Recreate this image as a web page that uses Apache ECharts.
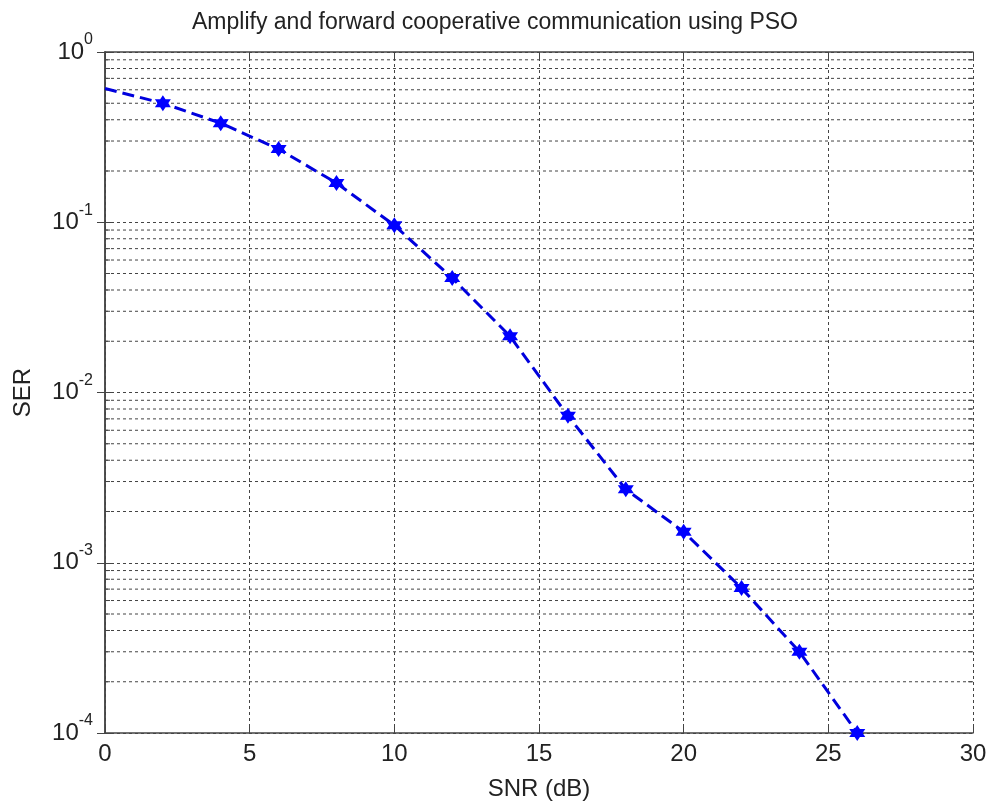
<!DOCTYPE html>
<html>
<head>
<meta charset="utf-8">
<script src="https://cdn.jsdelivr.net/npm/echarts@6/dist/echarts.min.js"></script>
<style>html,body{margin:0;padding:0;background:#fff;}#c{width:990px;height:806px;}</style>
</head>
<body>
<div id="c"></div>
<script>
// Data
var snr = [0, 2, 4, 6, 8, 10, 12, 14, 16, 18, 20, 22, 24, 26];
var ser = [0.61, 0.50, 0.382, 0.269, 0.170, 0.096, 0.047, 0.0214, 0.0073, 0.0027, 0.00152, 0.00071, 0.00030, 0.0001];
var xTicks = [0, 5, 10, 15, 20, 25, 30];
var yDecades = [1e-4, 1e-3, 1e-2, 1e-1, 1];
var minorMultipliers = [2, 3, 4, 5, 6, 7, 8, 9];

var minorVals = [];
for (var d = 0; d < yDecades.length - 1; d++) {
  for (var m = 0; m < minorMultipliers.length; m++) {
    minorVals.push(yDecades[d] * minorMultipliers[m]);
  }
}

var font = '"Liberation Sans", Arial, sans-serif';
var textColor = '#222';
var axisColor = '#444';
var gridLine = { show: true, lineStyle: { color: '#444', width: 1, type: [3, 3] } };

var hexagram = 'path://M0,-10 L2.9,-5 L8.66,-5 L5.8,0 L8.66,5 L2.9,5 L0,10 L-2.9,5 L-8.66,5 L-5.8,0 L-8.66,-5 L-2.9,-5 Z';

var lineData = snr.map(function (x, i) {
  var item = { value: [x, ser[i]] };
  if (i === 0) item.symbol = 'none';
  return item;
});

var chart = echarts.init(document.getElementById('c'));
chart.setOption({
  backgroundColor: '#fff',
  animation: false,
  title: {
    text: 'Amplify and forward cooperative communication using PSO',
    left: 'center',
    top: 6,
    textStyle: { fontFamily: font, fontSize: 23, fontWeight: 'normal', color: textColor }
  },
  grid: { left: 105, right: 17, top: 52, bottom: 71 },
  xAxis: [{
    type: 'value', min: 0, max: 30, interval: 5,
    name: 'SNR (dB)', nameLocation: 'middle', nameGap: 44,
    nameTextStyle: { fontFamily: font, fontSize: 24, color: textColor },
    axisLine: { show: true, lineStyle: { color: axisColor, width: 1.5 } },
    axisTick: { show: true, inside: true, length: 8, lineStyle: { color: axisColor } },
    axisLabel: { fontFamily: font, fontSize: 24, color: textColor, margin: 9,
      formatter: function (v) { return xTicks.indexOf(v) >= 0 ? String(v) : ''; } },
    splitLine: gridLine
  }, {
    type: 'value', min: 0, max: 30, interval: 5, position: 'top',
    axisLine: { show: true, lineStyle: { color: axisColor, width: 1.5 } },
    axisTick: { show: true, inside: true, length: 8, lineStyle: { color: axisColor } },
    axisLabel: { show: false }, splitLine: { show: false }
  }],
  yAxis: [{
    type: 'log', logBase: 10, min: 1e-4, max: 1, splitNumber: 4,
    name: 'SER', nameLocation: 'middle', nameGap: 70,
    nameTextStyle: { fontFamily: font, fontSize: 24, color: textColor },
    axisLine: { show: true, lineStyle: { color: axisColor, width: 1.5 } },
    axisTick: { show: true, inside: true, length: 8, lineStyle: { color: axisColor } },
    axisLabel: {
      margin: 12,
      formatter: function (v) {
        var e = Math.round(Math.log10(v));
        return '{b|10}{s|' + e + '}';
      },
      rich: {
        b: { fontFamily: font, fontSize: 24, color: textColor, lineHeight: 40, verticalAlign: 'middle' },
        s: { fontFamily: font, fontSize: 16, color: textColor, lineHeight: 16, verticalAlign: 'top' }
      }
    },
    splitLine: gridLine
  }, {
    type: 'log', logBase: 10, min: 1e-4, max: 1, splitNumber: 4, position: 'right',
    axisLine: { show: true, lineStyle: { color: axisColor, width: 1.5 } },
    axisTick: { show: true, inside: true, length: 8, lineStyle: { color: axisColor } },
    axisLabel: { show: false }, splitLine: { show: false }
  }],
  series: [{
    type: 'custom',
    silent: true,
    xAxisIndex: 0, yAxisIndex: 0,
    data: minorVals.map(function (v) { return [0, v]; }),
    clip: false,
    z: 1,
    renderItem: function (params, api) {
      var y = api.coord([0, api.value(1)])[1];
      var cs = params.coordSys;
      var st = { stroke: '#444', lineWidth: 1, lineDash: [3, 3] };
      var st2 = { stroke: '#444', lineWidth: 1 };
      return {
        type: 'group',
        children: [
          { type: 'line', shape: { x1: cs.x, y1: y, x2: cs.x + cs.width, y2: y }, style: st },
          { type: 'line', shape: { x1: cs.x, y1: y, x2: cs.x + 5, y2: y }, style: st2 },
          { type: 'line', shape: { x1: cs.x + cs.width - 5, y1: y, x2: cs.x + cs.width, y2: y }, style: st2 }
        ]
      };
    }
  }, {
    type: 'line',
    xAxisIndex: 0, yAxisIndex: 0,
    data: lineData,
    clip: false,
    z: 5,
    symbol: hexagram,
    symbolSize: 16,
    showAllSymbol: true,
    lineStyle: { color: '#0000dd', width: 3, type: [12, 6] },
    itemStyle: { color: '#0000ff' }
  }]
});
</script>
</body>
</html>
